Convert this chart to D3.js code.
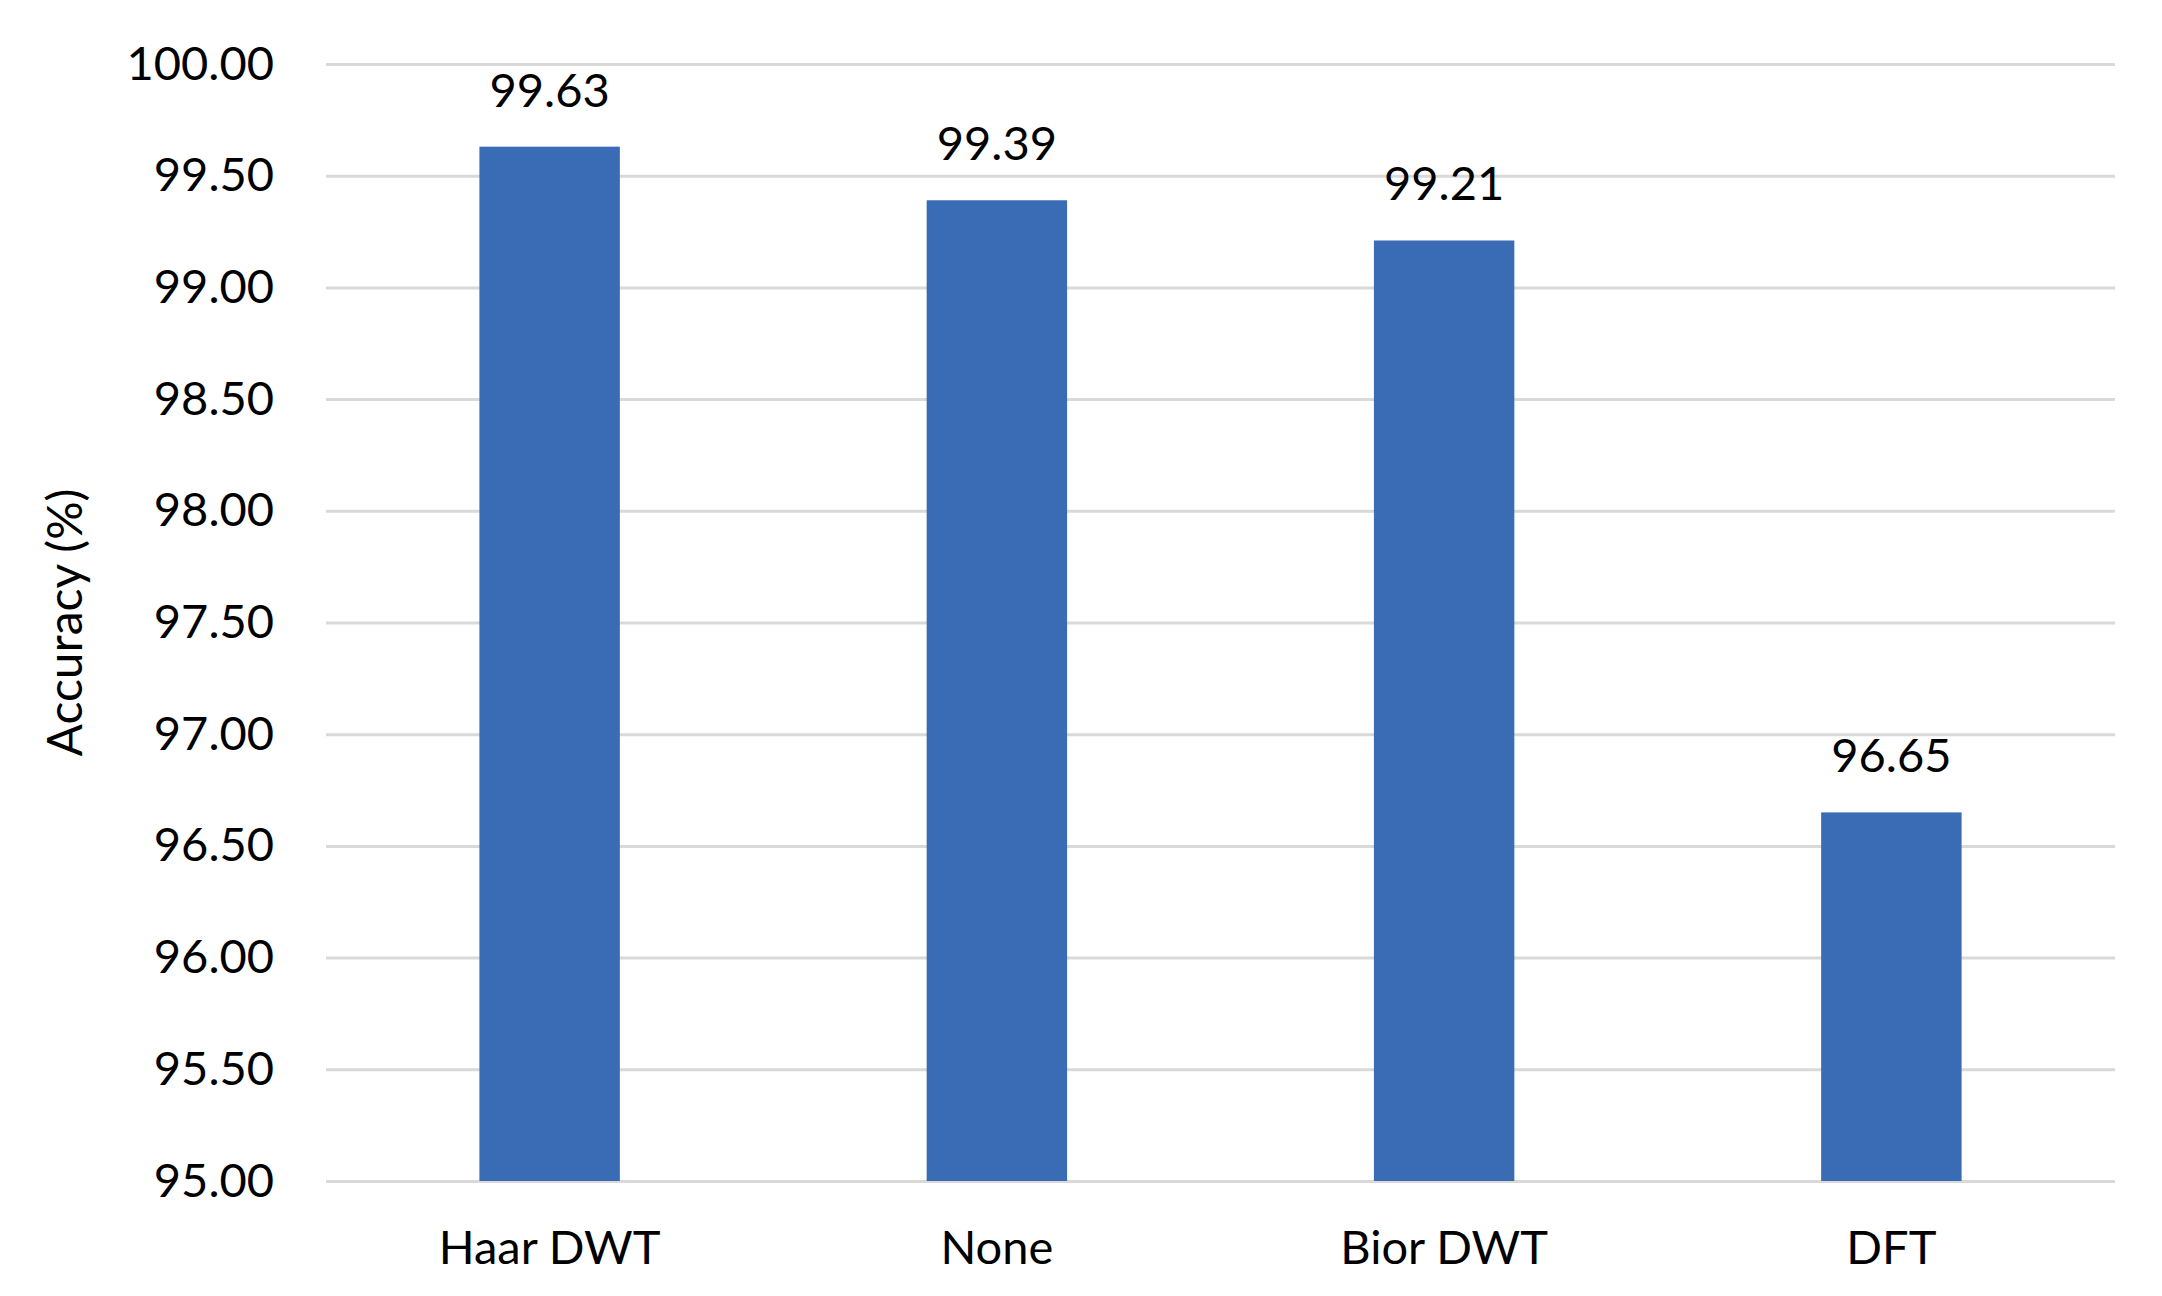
<!DOCTYPE html>
<html><head><meta charset="utf-8">
<script src="https://cdn.jsdelivr.net/npm/d3@7"></script>
<style>body{margin:0;background:#fff}</style></head>
<body><svg id="c" width="2162" height="1296"></svg>
<script>
const categories = ["Haar DWT","None","Bior DWT","DFT"];
const values = [99.63,99.39,99.21,96.65];
const yTicks = [95,95.5,96,96.5,97,97.5,98,98.5,99,99.5,100];
const yLabel = "Accuracy (%)";

const svg = d3.select("#c");
const m = {l:326, r:2162-2115, t:64, b:1296-1181};
const W = 2162, H = 1296;
const x = d3.scaleBand().domain(categories).range([m.l, W-m.r]).paddingInner(0.686).paddingOuter(0.343);
const y = d3.scaleLinear().domain([95,100]).range([H-m.b, m.t]);
const font = "Lato, 'Open Sans', sans-serif";

const ya = svg.append("g").attr("transform",`translate(${m.l},0)`)
  .call(d3.axisLeft(y).tickValues(yTicks).tickFormat(d3.format(".2f")).tickSize(-(W-m.l-m.r)).tickPadding(52));
ya.select(".domain").remove();
ya.selectAll("line").attr("stroke","#d9d9d9").attr("stroke-width",3);
ya.selectAll("text").attr("font-family",font).attr("font-size",47).attr("fill","#000");

svg.append("g").selectAll("rect").data(values).join("rect")
  .attr("x",(d,i)=>x(categories[i])).attr("width",x.bandwidth())
  .attr("y",d=>y(d)).attr("height",d=>y(95)-y(d)).attr("fill","#3a6bb5");

svg.append("g").selectAll("text").data(values).join("text")
  .attr("x",(d,i)=>x(categories[i])+x.bandwidth()/2).attr("y",d=>y(d)-40)
  .attr("text-anchor","middle").attr("font-family",font).attr("font-size",47).text(d=>d.toFixed(2));

const xa = svg.append("g").attr("transform",`translate(0,${H-m.b})`).call(d3.axisBottom(x).tickSize(0).tickPadding(50));
xa.select(".domain").remove();
xa.selectAll("text").attr("font-family",font).attr("font-size",47).attr("fill","#000");

svg.append("text").attr("transform",`translate(82,${(m.t+H-m.b)/2}) rotate(-90)`)
  .attr("text-anchor","middle").attr("font-family",font).attr("font-size",48).text(yLabel);
</script></body></html>
